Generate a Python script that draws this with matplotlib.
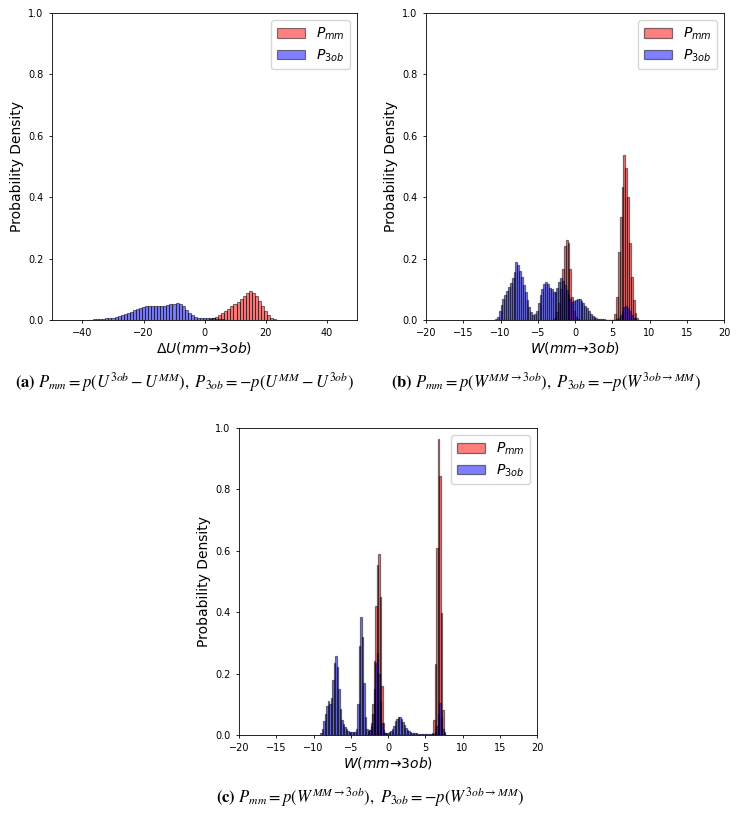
import numpy as np
import matplotlib
matplotlib.use('Agg')
import matplotlib.pyplot as plt

# histogram bin heights (probability density)
# panel (a): dU, bin width 1
a_width = 1.0
a_red_start = 1.5
a_red = [0.002, 0.005, 0.010, 0.016, 0.023, 0.030, 0.037, 0.045, 0.052, 0.060,
         0.068, 0.077, 0.087, 0.093, 0.088, 0.078, 0.063, 0.045, 0.029, 0.015,
         0.006, 0.002, 0.001]
a_blue_start = -38.5
a_blue = [0.001, 0.001, 0.002, 0.002, 0.003, 0.004, 0.005, 0.006, 0.008, 0.010,
          0.013, 0.016, 0.019, 0.023, 0.027, 0.031, 0.035, 0.039, 0.042, 0.044,
          0.045, 0.045, 0.045, 0.045, 0.046, 0.047, 0.049, 0.051, 0.053, 0.055,
          0.052, 0.045, 0.034, 0.022, 0.016, 0.011, 0.008, 0.006, 0.005, 0.005,
          0.005, 0.005, 0.004, 0.003, 0.002, 0.001]

# panel (b): W, bin width 0.25
b_width = 0.25
b_red_start = -3.0
b_red = [0.003, 0.010, 0.025, 0.055, 0.100, 0.165, 0.240, 0.260, 0.250, 0.165,
         0.075, 0.030, 0.010, 0.003,
         0, 0, 0, 0, 0, 0, 0, 0, 0, 0, 0, 0, 0, 0, 0, 0, 0, 0, 0,
         0.020, 0.075, 0.220, 0.335, 0.433, 0.537, 0.495, 0.400, 0.250, 0.140,
         0.065, 0.023, 0.005]
b_blue_start = -10.75
b_blue = [0.003, 0.010, 0.030, 0.050, 0.068, 0.080, 0.095, 0.107, 0.120, 0.138,
          0.155, 0.190, 0.180, 0.160, 0.140, 0.115, 0.090, 0.065, 0.042, 0.025,
          0.016, 0.018, 0.030, 0.055, 0.080, 0.100, 0.118, 0.125, 0.118, 0.105,
          0.100, 0.092, 0.090, 0.105, 0.125, 0.136, 0.128, 0.115, 0.098, 0.080,
          0.068, 0.060, 0.062, 0.066, 0.068, 0.067, 0.062, 0.055, 0.047, 0.038,
          0.028, 0.020, 0.014, 0.010, 0.007, 0.004, 0.003, 0.002, 0.002, 0.001,
          0.001, 0.001, 0.001, 0.001, 0.001, 0.002, 0.006, 0.016, 0.030, 0.043,
          0.047, 0.040, 0.028, 0.016, 0.008, 0.003, 0.001]

# panel (c): W, bin width 0.2
c_width = 0.2
c_red_start = -2.7
c_red = [0.005, 0.015, 0.040, 0.100, 0.240, 0.420, 0.555, 0.590, 0.450, 0.160,
         0.040, 0.008,
         0, 0, 0, 0, 0, 0, 0, 0, 0, 0, 0, 0, 0, 0, 0, 0, 0, 0, 0, 0, 0, 0, 0, 0,
         0, 0, 0, 0, 0, 0, 0,
         0.005, 0.050, 0.230, 0.610, 0.964, 0.845, 0.397, 0.080, 0.010]
c_blue_start = -9.1
c_blue = [0.005, 0.020, 0.045, 0.070, 0.095, 0.110, 0.100, 0.120, 0.180, 0.235,
          0.256, 0.220, 0.150, 0.085, 0.050, 0.035, 0.025, 0.018, 0.014, 0.011,
          0.010, 0.009, 0.009, 0.010, 0.020, 0.100, 0.290, 0.385, 0.320, 0.170,
          0.060, 0.020, 0.012, 0.015, 0.030, 0.070, 0.150, 0.235, 0.267, 0.200,
          0.110, 0.040, 0.015, 0.008, 0.007, 0.008, 0.010, 0.014, 0.020, 0.030,
          0.044, 0.053, 0.058, 0.058, 0.052, 0.042, 0.032, 0.024, 0.017, 0.012,
          0.009, 0.007, 0.006, 0.005, 0.005, 0.004, 0.004, 0.004, 0.003, 0.003,
          0.003, 0.003, 0.002, 0.002, 0.002, 0.002, 0.003, 0.010, 0.030, 0.070,
          0.104, 0.060, 0.020, 0.005]

captions = [
    r'$\mathbf{(a)}\ P_{mm} = p(U^{3ob} - U^{MM}),\ P_{3ob} = -p(U^{MM} - U^{3ob})$',
    r'$\mathbf{(b)}\ P_{mm} = p(W^{MM\rightarrow 3ob}),\ P_{3ob} = -p(W^{3ob\rightarrow MM})$',
    r'$\mathbf{(c)}\ P_{mm} = p(W^{MM\rightarrow 3ob}),\ P_{3ob} = -p(W^{3ob\rightarrow MM})$',
]


def draw_hist(ax, start, width, heights, color, label, lw):
    heights = np.array(heights, dtype=float)
    edges = start + width * np.arange(len(heights) + 1)
    centers = edges[:-1] + width / 2
    ax.hist(centers, bins=edges, weights=heights, color=color, alpha=0.5,
            edgecolor='black', linewidth=lw, label=label)


def style(ax, xlabel, xlim, xticks):
    ax.set_xlim(xlim)
    ax.set_ylim(0, 1)
    ax.set_xticks(xticks)
    ax.set_yticks(np.arange(0, 1.01, 0.2))
    ax.tick_params(labelsize=7, length=2.5, width=0.6)
    for s in ax.spines.values():
        s.set_linewidth(0.6)
    ax.set_xlabel(xlabel, fontsize=10, labelpad=1)
    ax.set_ylabel('Probability Density', fontsize=10, labelpad=3)
    ax.legend(loc='upper right', fontsize=10, handlelength=2.0,
              borderpad=0.4, labelspacing=0.4)


fig = plt.figure(figsize=(7.37, 8.17), dpi=100)

ax_a = fig.add_axes([52 / 737, 1 - 320 / 817, 305 / 737, 307 / 817])
draw_hist(ax_a, a_red_start, a_width, a_red, 'red', r'$P_{mm}$', 0.8)
draw_hist(ax_a, a_blue_start, a_width, a_blue, 'blue', r'$P_{3ob}$', 0.8)
style(ax_a, r'$\Delta U(mm$→$3ob)$', (-50, 50), [-40, -20, 0, 20, 40])

ax_b = fig.add_axes([426 / 737, 1 - 320 / 817, 298 / 737, 307 / 817])
draw_hist(ax_b, b_red_start, b_width, b_red, 'red', r'$P_{mm}$', 0.9)
draw_hist(ax_b, b_blue_start, b_width, b_blue, 'blue', r'$P_{3ob}$', 0.9)
style(ax_b, r'$W(mm$→$3ob)$', (-20, 20), np.arange(-20, 21, 5))

ax_c = fig.add_axes([239 / 737, 1 - 735 / 817, 298 / 737, 307 / 817])
draw_hist(ax_c, c_red_start, c_width, c_red, 'red', r'$P_{mm}$', 0.9)
draw_hist(ax_c, c_blue_start, c_width, c_blue, 'blue', r'$P_{3ob}$', 0.9)
style(ax_c, r'$W(mm$→$3ob)$', (-20, 20), np.arange(-20, 21, 5))

cap_pos = [(185, 382), (546, 382), (370, 797)]
for (px, py), cap in zip(cap_pos, captions):
    fig.text(px / 737, 1 - py / 817, cap, ha='center', va='center',
             fontsize=12, math_fontfamily='stix')

fig.savefig('out.png', dpi=100)
